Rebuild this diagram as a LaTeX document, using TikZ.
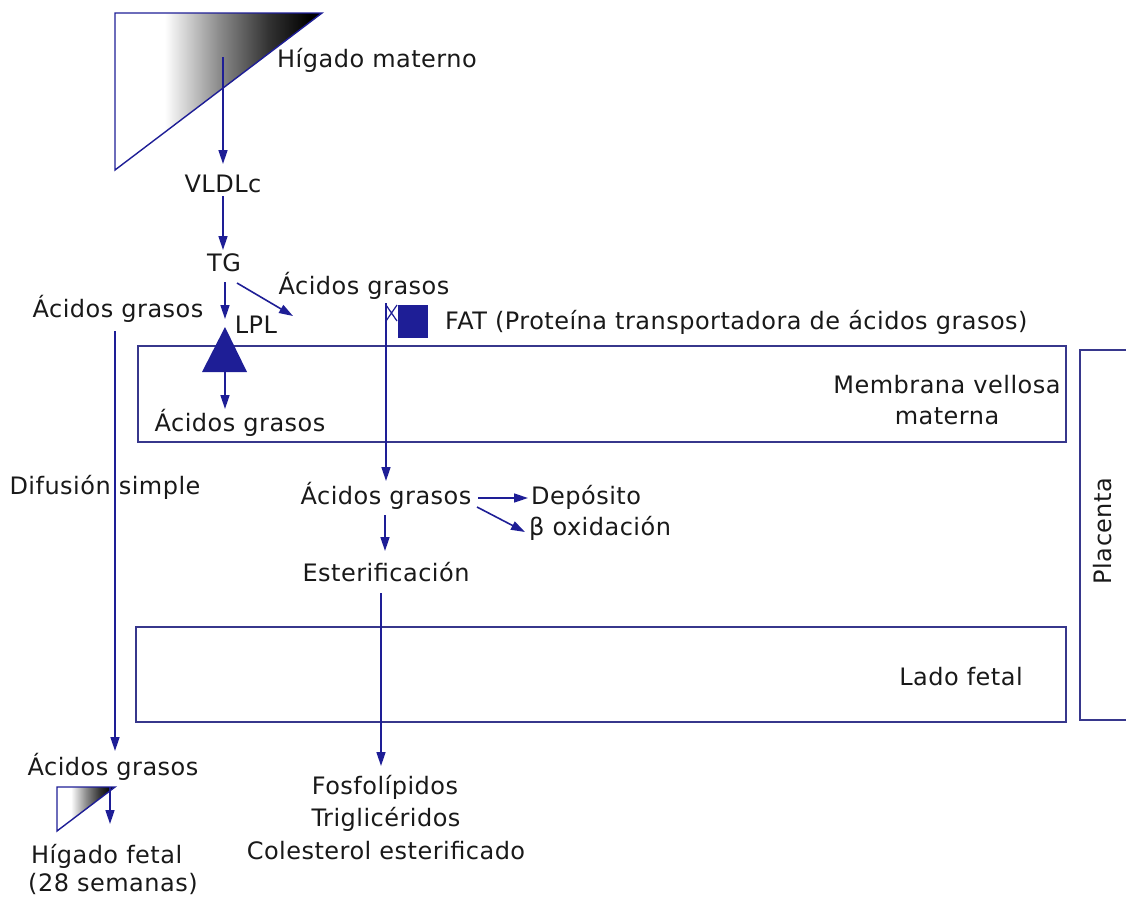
\documentclass[tikz,border=0pt]{standalone}
\usepackage{fontspec}
\setmainfont{DejaVu Sans}[LetterSpace=2]
\usetikzlibrary{arrows.meta}
\definecolor{mblue}{RGB}{30,30,150}
\definecolor{boxc}{RGB}{55,55,140}
\definecolor{txt}{RGB}{25,25,25}
\pgfdeclarehorizontalshading{liver}{100bp}{color(0bp)=(white); color(25bp)=(white); color(37bp)=(white); color(50bp)=(black!45); color(62bp)=(black!80); color(72bp)=(black); color(100bp)=(black)}
\tikzset{
  lbl/.style={inner sep=0pt, text=txt},
  arr/.style={draw=mblue, line width=1.6pt, -{Triangle[length=14pt,width=9pt]}},
  plain/.style={draw=mblue, line width=1.6pt},
  frame/.style={draw=boxc, line width=1.6pt},
}
\begin{document}
\begin{tikzpicture}[x=1pt,y=-1pt,font=\fontsize{24}{31}\selectfont]
\useasboundingbox (0,0) rectangle (1126,902);
% boxes
\draw[frame] (138,346) rectangle (1066,442);
\draw[frame] (136,627) rectangle (1066,722);
\draw[frame] (1126,350) -- (1080,350) -- (1080,720) -- (1126,720);
% maternal liver
\shadedraw[shading=liver, draw=mblue, line width=1.4pt] (115,13) -- (322,13) -- (115,170) -- cycle;
% fetal liver
\shadedraw[shading=liver, draw=mblue, line width=1.4pt] (57,787) -- (115,787) -- (57,831) -- cycle;
% labels
\node[lbl] (hm) at (377,60) {Hígado materno};
\node[lbl] (vldl) at (223,184) {VLDLc};
\node[lbl] (tg) at (224,263) {TG};
\node[lbl] (agr) at (364,286) {Ácidos grasos};
\node[lbl] (agl) at (118,309) {Ácidos grasos};
\node[lbl] (lpl) at (256,325) {LPL};
\node[lbl] (agm) at (240,423) {Ácidos grasos};
\node[lbl, anchor=west] (fat) at (445,322) {FAT (Proteína transportadora de ácidos grasos)};
\node[lbl, align=center] (mvm) at (947,400) {Membrana vellosa\\materna};
\node[lbl] (dif) at (105,487) {Difusión simple};
\node[lbl] (agc) at (386,496) {Ácidos grasos};
\node[lbl, anchor=west] (dep) at (531,497) {Depósito};
\node[lbl, anchor=west] (box) at (529,528) {β oxidación};
\node[lbl] (est) at (386,572) {Esterificación};
\node[lbl] (lf) at (961,677) {Lado fetal};
\node[lbl] (fos) at (385,787) {Fosfolípidos};
\node[lbl] (tri) at (386,819) {Triglicéridos};
\node[lbl] (col) at (386,851) {Colesterol esterificado};
\node[lbl] (agb) at (113,767) {Ácidos grasos};
\node[lbl, anchor=west] (hf) at (31,856) {Hígado fetal};
\node[lbl, anchor=west] (sem) at (28,884) {(28 semanas)};
\node[lbl, rotate=90] (pla) at (1103,531) {Placenta};
% connector end points
\coordinate (c1) at (223,57);  \coordinate (c2) at (223,164);
\coordinate (c3) at (223,196); \coordinate (c4) at (223,250);
\coordinate (c5) at (225,282); \coordinate (c6) at (225,319);
\coordinate (c7) at (237,283); \coordinate (c8) at (293,316);
\coordinate (c9) at (115,331); \coordinate (c10) at (115,751);
\coordinate (c11) at (225,372); \coordinate (c12) at (225,409);
\coordinate (c13) at (386,303); \coordinate (c14) at (386,481);
\coordinate (c15) at (478,498); \coordinate (c16) at (528,498);
\coordinate (c17) at (477,507); \coordinate (c18) at (525,532);
\coordinate (c19) at (385,515); \coordinate (c20) at (385,551);
\coordinate (c21) at (381,593); \coordinate (c22) at (381,766);
\coordinate (c23) at (110,787); \coordinate (c24) at (110,824);
% connectors
\draw[arr] (c1) -- (c2);
\draw[arr] (c3) -- (c4);
\draw[arr] (c5) -- (c6);
\draw[arr] (c7) -- (c8);
\draw[arr] (c9) -- (c10);
\fill[mblue] (225,327) -- (247,372) -- (202,372) -- cycle;
\draw[arr] (c11) -- (c12);
\draw[arr] (c13) -- (c14);
\draw[plain, line width=1.2pt] (386,305) -- (397,321) (386,321) -- (397,305);
\fill[mblue] (398,305) rectangle (428,338);
\draw[arr] (c15) -- (c16);
\draw[arr] (c17) -- (c18);
\draw[arr] (c19) -- (c20);
\draw[arr] (c21) -- (c22);
\draw[arr] (c23) -- (c24);
\end{tikzpicture}
\end{document}
